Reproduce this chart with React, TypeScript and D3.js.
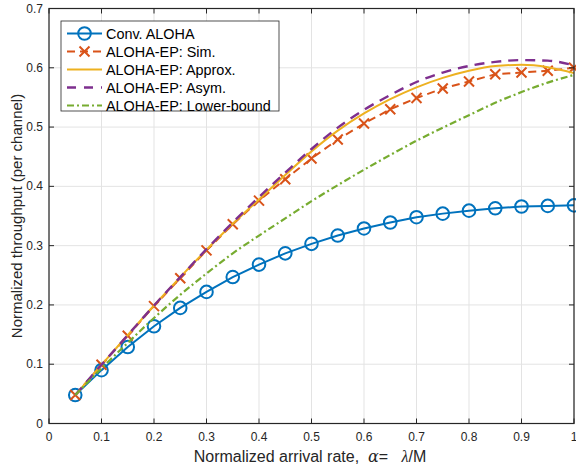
import React from "react";
import * as d3 from "d3";

const alphaGrid = [0.05, 0.1, 0.15, 0.2, 0.25, 0.3, 0.35, 0.4, 0.45, 0.5, 0.55, 0.6, 0.65, 0.7, 0.75, 0.8, 0.85, 0.9, 0.95, 1.0];
const convAloha = [0.048, 0.090, 0.129, 0.164, 0.195, 0.222, 0.247, 0.268, 0.287, 0.303, 0.317, 0.329, 0.339, 0.348, 0.354, 0.359, 0.363, 0.366, 0.367, 0.368];
const epSim = [0.048, 0.099, 0.148, 0.198, 0.245, 0.292, 0.336, 0.376, 0.412, 0.447, 0.479, 0.506, 0.530, 0.549, 0.565, 0.577, 0.589, 0.592, 0.595, 0.600];
const epApprox = [0.048, 0.099, 0.149, 0.199, 0.247, 0.293, 0.337, 0.378, 0.419, 0.459, 0.494, 0.523, 0.547, 0.567, 0.583, 0.595, 0.603, 0.605, 0.601, 0.591];
const epAsym = [0.048, 0.099, 0.149, 0.199, 0.247, 0.294, 0.339, 0.382, 0.423, 0.463, 0.499, 0.529, 0.554, 0.576, 0.592, 0.603, 0.610, 0.613, 0.612, 0.604];
const epLower = [0.048, 0.093, 0.136, 0.178, 0.217, 0.253, 0.287, 0.317, 0.346, 0.375, 0.402, 0.428, 0.453, 0.477, 0.499, 0.520, 0.541, 0.559, 0.575, 0.588];

const xTicks = [0, 0.1, 0.2, 0.3, 0.4, 0.5, 0.6, 0.7, 0.8, 0.9, 1];
const yTicks = [0, 0.1, 0.2, 0.3, 0.4, 0.5, 0.6, 0.7];
const legendLabels = ["Conv. ALOHA", "ALOHA-EP: Sim.", "ALOHA-EP: Approx.", "ALOHA-EP: Asym.", "ALOHA-EP: Lower-bound"];

const FONT = "'Liberation Sans', Arial, Helvetica, sans-serif";
const AX = "#262626";

export default function App() {
  const W = 576, H = 470;
  const x0 = 49, x1 = 574, y0 = 423.5, y1 = 8.5;
  const x = d3.scaleLinear().domain([0, 1]).range([x0, x1]);
  const y = d3.scaleLinear().domain([0, 0.7]).range([y0, y1]);

  const mk = (vals: number[], curve: d3.CurveFactory) =>
    d3.line<number>().x((_, i) => x(alphaGrid[i])).y((v) => y(v)).curve(curve)(vals) || "";

  const series = [
    { vals: convAloha, color: "#0072BD", dash: "none", curve: d3.curveLinear, marker: "o", w: 2 },
    { vals: epSim, color: "#D95319", dash: "8,5", curve: d3.curveLinear, marker: "x", w: 2 },
    { vals: epApprox, color: "#EDB120", dash: "none", curve: d3.curveMonotoneX, marker: "", w: 2 },
    { vals: epAsym, color: "#7E2F8E", dash: "10,7", curve: d3.curveMonotoneX, marker: "", w: 2.4 },
    { vals: epLower, color: "#77AC30", dash: "7,3,2,3", curve: d3.curveMonotoneX, marker: "", w: 2.2 },
  ];

  const renderMarker = (type: string, cx: number, cy: number, color: string, key: string) => {
    if (type === "o") return <circle key={key} cx={cx} cy={cy} r={6.3} fill="none" stroke={color} strokeWidth={2} />;
    if (type === "x") {
      const s = 5;
      return (
        <path key={key} d={`M${cx - s},${cy - s}L${cx + s},${cy + s}M${cx - s},${cy + s}L${cx + s},${cy - s}`} stroke={color} strokeWidth={2} fill="none" />
      );
    }
    return null;
  };

  const lx0 = 61, ly0 = 21, lw = 218, lh = 90;
  const rowH = 18;

  return (
    <svg width={W} height={H} style={{ position: "absolute", left: 0, top: 0, background: "#fff" }} fontFamily={FONT}>
      <rect x={0} y={0} width={W} height={H} fill="#fff" />
      {xTicks.map((t) => (
        <line key={"gx" + t} x1={x(t)} x2={x(t)} y1={y0} y2={y1} stroke="#e3e3e3" strokeWidth={1} />
      ))}
      {yTicks.map((t) => (
        <line key={"gy" + t} x1={x0} x2={x1} y1={y(t)} y2={y(t)} stroke="#e3e3e3" strokeWidth={1} />
      ))}
      {series.map((s, si) => (
        <g key={"s" + si}>
          <path d={mk(s.vals, s.curve)} fill="none" stroke={s.color} strokeWidth={s.w} strokeDasharray={s.dash} />
          {s.marker && s.vals.map((v, i) => renderMarker(s.marker, x(alphaGrid[i]), y(v), s.color, `m${si}-${i}`))}
        </g>
      ))}
      <rect x={x0} y={y1} width={x1 - x0} height={y0 - y1} fill="none" stroke={AX} strokeWidth={1.2} />
      {xTicks.map((t) => (
        <g key={"tx" + t}>
          <line x1={x(t)} x2={x(t)} y1={y0} y2={y0 - 5} stroke={AX} strokeWidth={1} />
          <line x1={x(t)} x2={x(t)} y1={y1} y2={y1 + 5} stroke={AX} strokeWidth={1} />
          <text x={x(t)} y={y0 + 17} textAnchor="middle" fontSize={12} fill={AX}>{String(t)}</text>
        </g>
      ))}
      {yTicks.map((t) => (
        <g key={"ty" + t}>
          <line x1={x0} x2={x0 + 5} y1={y(t)} y2={y(t)} stroke={AX} strokeWidth={1} />
          <line x1={x1} x2={x1 - 5} y1={y(t)} y2={y(t)} stroke={AX} strokeWidth={1} />
          <text x={x0 - 6} y={y(t) + 4} textAnchor="end" fontSize={12} fill={AX}>{String(t)}</text>
        </g>
      ))}
      <text x={310} y={462} textAnchor="middle" fontSize={16} fill={AX} style={{ whiteSpace: "pre" }}>
        <tspan>{"Normalized arrival rate,  "}</tspan>
        <tspan fontFamily="'DejaVu Serif', 'Liberation Serif', serif" fontStyle="italic">α</tspan>
        <tspan>{"=   "}</tspan>
        <tspan fontFamily="'Liberation Serif', serif" fontStyle="italic">λ</tspan>
        <tspan>/M</tspan>
      </text>
      <text transform={`translate(22,${(y0 + y1) / 2}) rotate(-90)`} textAnchor="middle" fontSize={15} fill={AX}>
        Normalized throughput (per channel)
      </text>
      <rect x={lx0} y={ly0} width={lw} height={lh} fill="#fff" stroke={AX} strokeWidth={0.8} />
      {series.map((s, i) => {
        const cy = ly0 + 12.5 + i * rowH;
        return (
          <g key={"lg" + i}>
            <line x1={lx0 + 6} x2={lx0 + 41} y1={cy} y2={cy} stroke={s.color} strokeWidth={s.w} strokeDasharray={s.dash === "10,7" ? "9,8" : s.dash} />
            {s.marker && renderMarker(s.marker, lx0 + 23.5, cy, s.color, "lm" + i)}
            <text x={lx0 + 45} y={cy + 5} fontSize={14.4} fill="#000">{legendLabels[i]}</text>
          </g>
        );
      })}
    </svg>
  );
}
